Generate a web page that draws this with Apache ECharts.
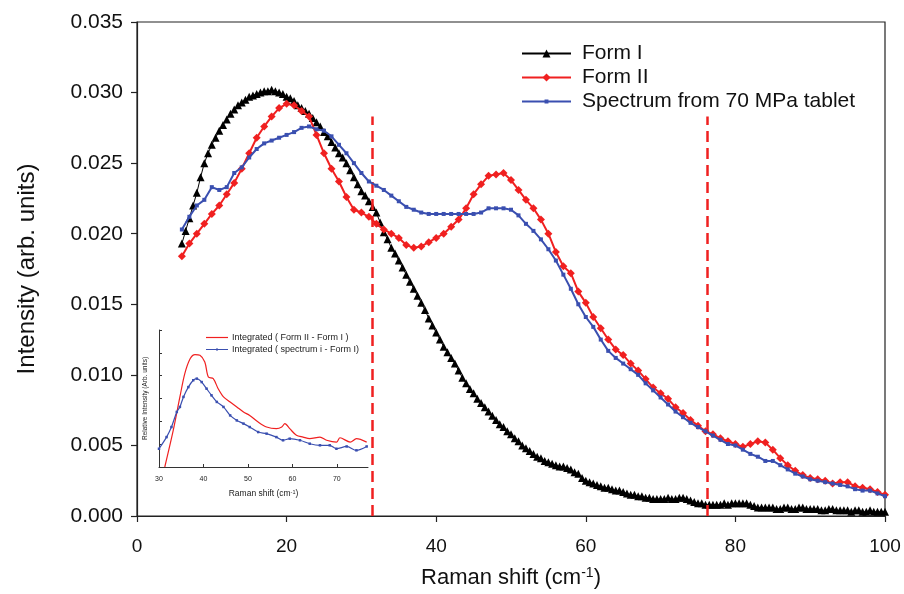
<!DOCTYPE html>
<html><head><meta charset="utf-8">
<script src="https://cdn.jsdelivr.net/npm/echarts@6/dist/echarts.min.js"></script>
<style>html,body{margin:0;padding:0;background:#fff}#c{width:904px;height:594px}</style>
</head><body><div id="c"></div>
<script>
// ---- main chart data ----
const xShift = [6,7,8,9,10,11,12,13,14,15,16,17,18,19,20,21,22,23,24,25,26,27,28,29,30,31,32,33,34,35,36,37,38,39,40,41,42,43,44,45,46,47,48,49,50,51,52,53,54,55,56,57,58,59,60,61,62,63,64,65,66,67,68,69,70,71,72,73,74,75,76,77,78,79,80,81,82,83,84,85,86,87,88,89,90,91,92,93,94,95,96,97,98,99,100];
const xShiftFormI = [6,6.5,7,7.5,8,8.5,9,9.5,10,10.5,11,11.5,12,12.5,13,13.5,14,14.5,15,15.5,16,16.5,17,17.5,18,18.5,19,19.5,20,20.5,21,21.5,22,22.5,23,23.5,24,24.5,25,25.5,26,26.5,27,27.5,28,28.5,29,29.5,30,30.5,31,31.5,32,32.5,33,33.5,34,34.5,35,35.5,36,36.5,37,37.5,38,38.5,39,39.5,40,40.5,41,41.5,42,42.5,43,43.5,44,44.5,45,45.5,46,46.5,47,47.5,48,48.5,49,49.5,50,50.5,51,51.5,52,52.5,53,53.5,54,54.5,55,55.5,56,56.5,57,57.5,58,58.5,59,59.5,60,60.5,61,61.5,62,62.5,63,63.5,64,64.5,65,65.5,66,66.5,67,67.5,68,68.5,69,69.5,70,70.5,71,71.5,72,72.5,73,73.5,74,74.5,75,75.5,76,76.5,77,77.5,78,78.5,79,79.5,80,80.5,81,81.5,82,82.5,83,83.5,84,84.5,85,85.5,86,86.5,87,87.5,88,88.5,89,89.5,90,90.5,91,91.5,92,92.5,93,93.5,94,94.5,95,95.5,96,96.5,97,97.5,98,98.5,99,99.5,100];
const formI = [.0193,.0202,.0211,.0220,.0229,.0240,.0250,.0257,.0263,.0268,.0273,.0277,.0281,.0285,.0288,.0291,.0293,.0295,.0297,.0298,.0299,.0300,.0301,.0301,.0302,.0301,.0300,.0299,.0297,.0296,.0294,.0291,.0289,.0287,.0285,.0282,.0279,.0276,.0272,.0269,.0265,.0261,.0257,.0254,.0250,.0245,.0240,.0235,.0230,.0227,.0223,.0219,.0215,.0208,.0201,.0196,.0190,.0186,.0181,.0176,.0171,.0166,.0161,.0156,.0151,.0146,.0140,.0135,.0130,.0125,.0120,.0116,.0112,.0108,.0103,.0098,.0094,.0090,.0087,.0083,.0080,.0077,.0074,.0071,.0068,.0065,.0063,.0060,.0058,.0055,.0053,.0050,.0048,.0046,.0044,.0042,.0041,.0039,.0038,.0037,.0036,.0035,.0035,.0034,.0033,.0031,.0030,.0027,.0025,.0024,.0023,.0022,.0021,.0020,.0020,.0019,.0018,.0018,.0017,.0016,.0015,.0015,.0014,.0014,.0013,.0013,.0012,.0012,.0012,.0012,.0013,.0012,.0012,.0013,.0013,.0012,.0011,.0010,.0009,.0009,.0008,.0008,.0008,.0008,.0008,.0009,.0008,.0009,.0009,.0009,.0009,.0009,.0008,.0007,.0006,.0006,.0006,.0006,.0006,.0005,.0005,.0006,.0006,.0005,.0005,.0006,.0006,.0005,.0005,.0005,.0005,.0004,.0004,.0005,.0005,.0004,.0004,.0004,.0004,.0003,.0004,.0004,.0003,.0003,.0004,.0003,.0003,.0003,.0003];
const formII = [.0184,.0193,.0200,.0207,.0214,.0220,.0228,.0236,.0246,.0257,.0268,.0276,.0283,.0289,.0292,.0291,.0287,.0283,.0270,.0257,.0246,.0237,.0226,.0217,.0215,.0212,.0207,.0203,.0200,.0197,.0192,.0190,.0191,.0194,.0197,.0200,.0205,.0210,.0218,.0228,.0235,.0241,.0242,.0243,.0238,.0231,.0224,.0218,.0210,.0200,.0187,.0177,.0172,.0159,.0151,.0141,.0133,.0125,.0118,.0114,.0108,.0103,.0097,.0091,.0087,.0083,.0077,.0073,.0068,.0064,.0060,.0058,.0055,.0053,.0051,.0049,.0051,.0053,.0052,.0047,.0041,.0036,.0032,.0029,.0027,.0026,.0025,.0023,.0024,.0024,.0021,.0020,.0019,.0017,.0015];
const tablet70 = [.0203,.0212,.0220,.0224,.0233,.0231,.0233,.0243,.0247,.0254,.0260,.0264,.0266,.0268,.0270,.0272,.0275,.0276,.0274,.0273,.0269,.0263,.0257,.0250,.0243,.0237,.0234,.0231,.0227,.0223,.0219,.0217,.0215,.0214,.0214,.0214,.0214,.0214,.0214,.0214,.0215,.0218,.0218,.0218,.0217,.0213,.0207,.0202,.0196,.0189,.0181,.0171,.0161,.0150,.0141,.0134,.0125,.0117,.0112,.0108,.0104,.0100,.0094,.0089,.0084,.0079,.0074,.0070,.0066,.0063,.0060,.0057,.0054,.0051,.0050,.0047,.0044,.0042,.0039,.0039,.0036,.0033,.0030,.0028,.0026,.0025,.0024,.0023,.0022,.0021,.0019,.0018,.0018,.0016,.0014];
const dashedX = [31.4, 76.3];
const dashedTop = 0.0283;
const yTicks = ['0.000','0.005','0.010','0.015','0.020','0.025','0.030','0.035'];

// ---- inset data ----
const insetRedX = [31.3,33.2,34.7,35.8,37,38.1,39.2,40.3,41.1,42.2,43.3,44.5,46,47.5,49,50.4,52.3,54.2,56.4,57.6,58.3,59.4,60.9,62.4,63.9,66.2,67.7,69.9,70.7,73,74.4,76.7];
const insetRedY = [0,1.6,3.07,4.09,4.74,4.92,4.89,4.6,3.94,3.87,3.43,3.07,2.85,2.63,2.41,2.26,1.97,1.75,1.68,1.75,1.9,1.68,1.39,1.31,1.24,1.31,1.17,1.09,1.28,1.09,1.24,1.09];
const insetBlueX = [30,31.7,32.8,34,34.7,35.5,36.6,37.7,38.5,39.6,40.7,41.8,43,44.5,46,47.5,49,50.4,52.3,54.2,56.4,57.9,59.4,61.7,63.9,66.2,68.4,69.9,72.2,74.4,76.7];
const insetBlueY = [0.8,1.31,1.75,2.41,2.63,3.07,3.5,3.8,3.87,3.72,3.43,3.14,2.85,2.63,2.26,2.04,1.9,1.75,1.53,1.46,1.31,1.17,1.24,1.17,1.02,0.95,0.95,0.8,0.9,0.73,0.9];

const zip = (a,b) => a.map((v,i)=>[v,b[i]]);
const FONT = '"Liberation Sans", Arial, sans-serif';
const RED = '#f02020', BLUE = '#3a4fb0';

const chart = echarts.init(document.getElementById('c'), null, {renderer:'canvas'});
chart.setOption({
  animation:false,
  backgroundColor:'#fff',
  grid:[
    {left:137, right:19, top:22, bottom:74, show:true, borderColor:'#222', borderWidth:1.2, backgroundColor:'transparent'},
    {left:159, right:536, top:330, bottom:127, show:false}
  ],
  legend:[
    {data:['Form I','Form II',
           {name:'Spectrum from 70 MPa tablet', icon:'path://M0,0 M50,10 M0,4 h50 v2 h-50 z M23,3 h4 v4 h-4 z'}],
     orient:'vertical', left:521, top:43, padding:0,
     itemWidth:49, itemHeight:10, itemGap:3,
     textStyle:{fontFamily:FONT, fontSize:21, lineHeight:21, color:'#111', padding:[0,0,0,6]}},
    {data:[{name:'Integrated ( Form II - Form I )', icon:'path://M0,0 M22,6 M0,2.4 h22 v1.2 h-22 z'},
           {name:'Integrated ( spectrum i - Form I)', icon:'path://M0,0 M22,6 M0,2.4 h22 v1.2 h-22 z M10,2 h2 v2 h-2 z'}],
     orient:'vertical', left:206, top:333, padding:0,
     itemWidth:22, itemHeight:6, itemGap:3,
     textStyle:{fontFamily:FONT, fontSize:9, color:'#222', padding:[0,0,0,-1]}}
  ],
  xAxis:[
    {type:'value', gridIndex:0, min:0, max:100, interval:20,
     name:'{a|Raman shift (cm}{s|-1}{a|)}', nameLocation:'middle', nameGap:50,
     nameTextStyle:{rich:{a:{fontFamily:FONT, fontSize:22, color:'#111'}, s:{fontFamily:FONT, fontSize:14, color:'#111', verticalAlign:'top', padding:[0,0,10,0]}}},
     axisLine:{lineStyle:{color:'#222', width:1.2}}, axisTick:{length:6, lineStyle:{color:'#222', width:1.2}},
     axisLabel:{fontFamily:FONT, fontSize:19, color:'#111', margin:21},
     splitLine:{show:false}},
    {type:'value', gridIndex:1, min:30, max:77, interval:10,
     name:'{a|Raman shift (cm}{s|-1}{a|)}', nameLocation:'middle', nameGap:22,
     nameTextStyle:{rich:{a:{fontFamily:FONT, fontSize:8.5, color:'#222'}, s:{fontFamily:FONT, fontSize:5.5, color:'#222', verticalAlign:'top', padding:[0,0,4,0]}}},
     axisLine:{lineStyle:{color:'#333', width:1}}, axisTick:{inside:true, length:3, lineStyle:{color:'#333'}},
     axisLabel:{fontFamily:FONT, fontSize:7, color:'#222', margin:9, showMaxLabel:false},
     splitLine:{show:false}}
  ],
  yAxis:[
    {type:'value', gridIndex:0, min:0, max:0.035, interval:0.005,
     name:'Intensity (arb. units)', nameLocation:'middle', nameGap:98,
     nameTextStyle:{fontFamily:FONT, fontSize:24, color:'#111'},
     axisLine:{show:true, lineStyle:{color:'#222', width:1.2}}, axisTick:{show:true, length:6, lineStyle:{color:'#222', width:1.2}},
     axisLabel:{fontFamily:FONT, fontSize:21, color:'#111', margin:14, formatter:(v,i)=>yTicks[i]},
     splitLine:{show:false}},
    {type:'value', gridIndex:1, min:0, max:6, interval:1,
     name:'Relative Intensity (Arb. units)', nameLocation:'middle', nameGap:10,
     nameTextStyle:{fontFamily:FONT, fontSize:6.5, color:'#222'},
     axisLine:{show:true, lineStyle:{color:'#333', width:1}}, axisTick:{show:true, inside:true, length:3, lineStyle:{color:'#333'}},
     axisLabel:{show:false}, splitLine:{show:false}}
  ],
  series:[
    {name:'Form I', type:'line', xAxisIndex:0, yAxisIndex:0, data:zip(xShiftFormI, formI),
     symbol:'triangle', symbolSize:8, itemStyle:{color:'#000'}, lineStyle:{color:'#000', width:1}, z:3},
    {name:'Form II', type:'line', xAxisIndex:0, yAxisIndex:0, data:zip(xShift, formII),
     symbol:'diamond', symbolSize:8, itemStyle:{color:RED}, lineStyle:{color:RED, width:2}, z:4,
     markLine:{silent:true, symbol:'none', label:{show:false},
       lineStyle:{color:RED, type:[11,6], width:2.5},
       data: dashedX.map(x => [{coord:[x,0]},{coord:[x,dashedTop]}])}},
    {name:'Spectrum from 70 MPa tablet', type:'line', xAxisIndex:0, yAxisIndex:0, data:zip(xShift, tablet70),
     symbol:'rect', symbolSize:4, itemStyle:{color:BLUE}, lineStyle:{color:BLUE, width:2}, z:5},
    {name:'Integrated ( Form II - Form I )', type:'line', xAxisIndex:1, yAxisIndex:1, data:zip(insetRedX, insetRedY),
     smooth:0.3, showSymbol:false, symbol:'none', itemStyle:{color:RED}, lineStyle:{color:RED, width:1.2}},
    {name:'Integrated ( spectrum i - Form I)', type:'line', xAxisIndex:1, yAxisIndex:1, data:zip(insetBlueX, insetBlueY),
     smooth:0.3, symbol:'rect', symbolSize:2.5, itemStyle:{color:BLUE}, lineStyle:{color:BLUE, width:1.2}}
  ]
});
</script></body></html>
